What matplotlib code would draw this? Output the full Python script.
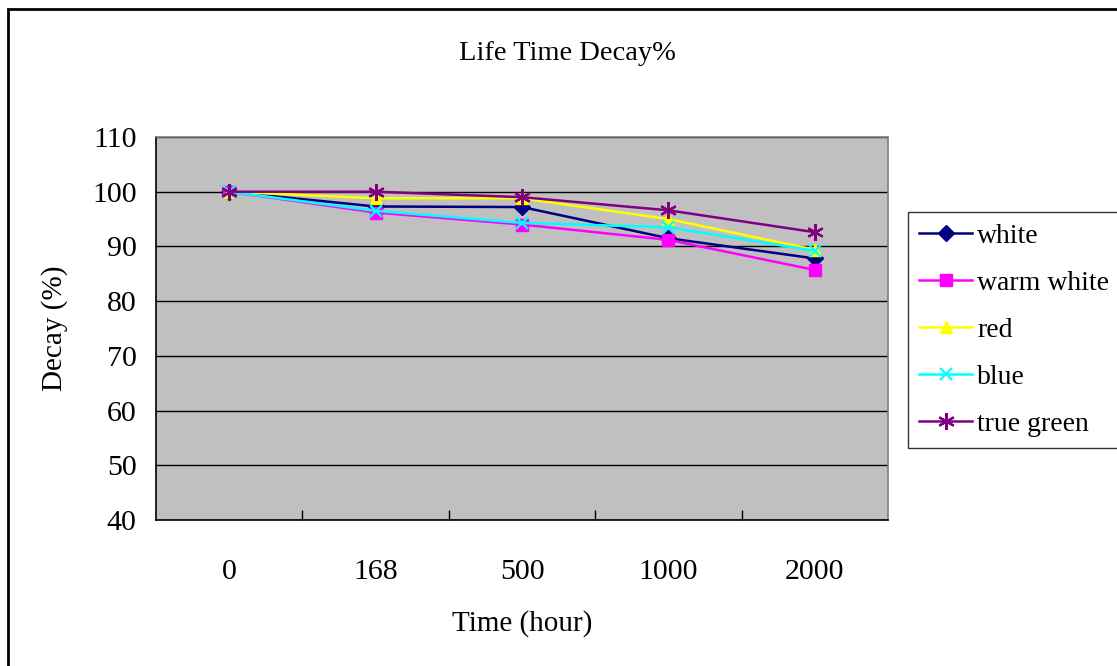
import matplotlib.pyplot as plt
from matplotlib.patches import Rectangle
import numpy as np

# 数据
time_labels = ['0', '168', '500', '1000', '2000']
white = [100, 97.3, 97.2, 91.5, 87.8]
warm_white = [100, 96.2, 94.0, 91.2, 85.7]
red = [100, 98.8, 98.8, 95.0, 89.4]
blue = [100, 96.5, 94.3, 93.5, 89.2]
true_green = [100, 100, 99.0, 96.6, 92.6]

plt.rcParams['font.family'] = ['Liberation Serif', 'DejaVu Serif']

fig = plt.figure(figsize=(11.17, 6.66), dpi=100)
ax = fig.add_axes([156 / 1117, 1 - 520 / 666, (888 - 156) / 1117, (520 - 137) / 666])
ax.set_facecolor('#C0C0C0')

x = np.arange(len(time_labels))
series = [
    ('white', white, '#000080', 'D', 8),
    ('warm white', warm_white, '#FF00FF', 's', 8),
    ('red', red, '#FFFF00', '^', 9),
    ('blue', blue, '#00FFFF', 'x', 9),
    ('true green', true_green, '#800080', (6, 2, 0), 12),
]
for name, vals, c, m, ms in series:
    ax.plot(x, vals, color=c, lw=1.8, marker=m, markersize=ms,
            markeredgewidth=1.6 if m in ('x', (6, 2, 0)) else 1,
            markerfacecolor=c, markeredgecolor=c, label=name, zorder=3)

# 坐标轴
ax.set_ylim(40, 110)
ax.set_yticks(np.arange(40, 111, 10))
ax.yaxis.grid(True, color='black', lw=1)
ax.set_axisbelow(True)
ax.tick_params(axis='y', length=0, pad=14, labelsize=21.5)

ax.set_xlim(-0.5, len(time_labels) - 0.5)
ax.set_xticks(x[:-1] + 0.5)
ax.set_xticklabels([])
ax.set_xticks(x, minor=True)
ax.set_xticklabels(time_labels, minor=True)
ax.tick_params(axis='x', which='major', direction='in', length=7, width=1)
ax.tick_params(axis='x', which='minor', length=0, pad=28, labelsize=21.5)

for s in ['left', 'bottom']:
    ax.spines[s].set_color('black')
    ax.spines[s].set_linewidth(1.2)
for s in ['top', 'right']:
    ax.spines[s].set_color('#808080')
    ax.spines[s].set_linewidth(1.2)

ax.set_xlabel('Time (hour)', fontsize=21, labelpad=18)
ax.set_ylabel('Decay (%)', fontsize=21, labelpad=17)

fig.text(567 / 1117, 1 - 53 / 666, 'Life Time Decay%', ha='center', va='center', fontsize=20.5)

# 图例
leg = ax.legend(loc='center left', bbox_to_anchor=(908 / 1117, 1 - 330 / 666),
                bbox_transform=fig.transFigure, fontsize=20, frameon=True,
                fancybox=False, handlelength=1.9, handletextpad=0.2,
                labelspacing=0.78, borderpad=0.4, borderaxespad=0)
leg.get_frame().set_edgecolor('black')
leg.get_frame().set_linewidth(1)

# 外框
fig.add_artist(Rectangle((8 / 1117, -0.1), 2, 1.1 - 9 / 666, transform=fig.transFigure,
                         fill=False, edgecolor='black', lw=2))

fig.savefig('out.png', dpi=100)
